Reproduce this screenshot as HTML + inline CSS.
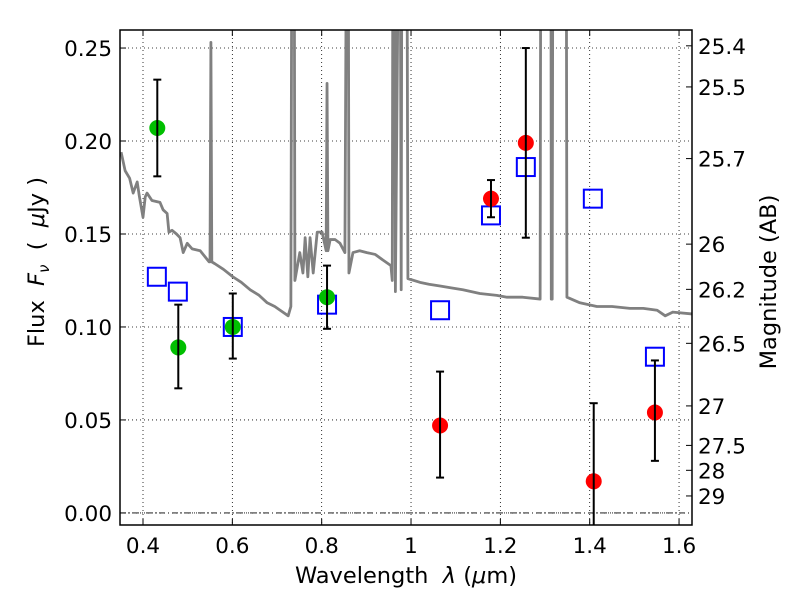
<!DOCTYPE html>
<html><head><meta charset="utf-8"><style>
body{margin:0;background:#fff}
svg text{font-family:"DejaVu Sans","Liberation Sans",sans-serif;fill:#000}
</style></head><body>
<svg id="chart" width="800" height="600" xmlns="http://www.w3.org/2000/svg"></svg>
<script>
const xTicks=[0.4,0.6,0.8,1.0,1.2,1.4,1.6];
const xTickLabels=["0.4","0.6","0.8","1","1.2","1.4","1.6"];
const yTicks=[0,0.05,0.1,0.15,0.2,0.25];
const yTickLabels=["0.00","0.05","0.10","0.15","0.20","0.25"];
const magTicks=[25.4,25.5,25.7,26,26.2,26.5,27,27.5,28,29];
const magLabels=["25.4","25.5","25.7","26","26.2","26.5","27","27.5","28","29"];
const greenX=[0.432,0.479,0.601,0.812];
const greenY=[0.207,0.089,0.100,0.116];
const greenHi=[0.233,0.112,0.118,0.133];
const greenLo=[0.181,0.067,0.083,0.099];
const redX=[1.065,1.179,1.257,1.409,1.546];
const redY=[0.047,0.169,0.199,0.017,0.054];
const redHi=[0.076,0.179,0.250,0.059,0.082];
const redLo=[0.019,0.159,0.148,-0.03,0.028];
const modelX=[0.431,0.478,0.601,0.812,1.065,1.179,1.257,1.407,1.546];
const modelY=[0.127,0.119,0.100,0.112,0.109,0.160,0.186,0.169,0.084];
const specX=[0.351,0.360,0.370,0.378,0.387,0.392,0.400,0.405,0.409,0.420,0.438,0.445,0.454,0.458,0.465,0.475,0.483,0.490,0.499,0.510,0.528,0.548,0.550,0.552,0.554,0.561,0.580,0.601,0.620,0.640,0.660,0.678,0.695,0.707,0.725,0.731,0.734,0.738,0.740,0.751,0.758,0.763,0.769,0.774,0.781,0.790,0.801,0.810,0.812,0.814,0.819,0.830,0.841,0.852,0.857,0.859,0.861,0.870,0.885,0.901,0.920,0.937,0.955,0.958,0.960,0.963,0.965,0.975,0.978,0.980,0.990,0.993,1.020,1.040,1.065,1.090,1.116,1.154,1.192,1.215,1.250,1.289,1.291,1.313,1.314,1.316,1.318,1.347,1.349,1.378,1.416,1.450,1.490,1.520,1.551,1.569,1.586,1.629];
const specY=[0.194,0.184,0.180,0.172,0.178,0.170,0.159,0.170,0.172,0.168,0.167,0.163,0.161,0.151,0.152,0.150,0.148,0.140,0.145,0.142,0.141,0.135,0.135,0.253,0.135,0.134,0.131,0.127,0.124,0.120,0.117,0.113,0.111,0.109,0.106,0.111,0.4,0.4,0.125,0.140,0.129,0.148,0.127,0.148,0.129,0.151,0.151,0.141,0.231,0.141,0.147,0.147,0.145,0.140,0.4,0.4,0.129,0.140,0.141,0.140,0.139,0.136,0.133,0.125,0.4,0.4,0.119,0.4,0.12,0.4,0.4,0.126,0.124,0.123,0.122,0.121,0.120,0.118,0.117,0.116,0.116,0.115,0.4,0.4,0.115,0.115,0.4,0.4,0.116,0.113,0.111,0.111,0.110,0.110,0.109,0.106,0.108,0.107];

const L=120,R=692,T=30,B=525,X0=0.3485,X1=1.629,Y0=-0.0065,Y1=0.2597;
const sx=v=>L+(v-X0)/(X1-X0)*(R-L);
const sy=v=>B-(v-Y0)/(Y1-Y0)*(B-T);
const NS="http://www.w3.org/2000/svg";
const svg=document.getElementById('chart');
function mk(tag,attrs,parent){const e=document.createElementNS(NS,tag);for(const k in attrs)e.setAttribute(k,attrs[k]);(parent||svg).appendChild(e);return e;}
const defs=mk('defs',{});const cp=mk('clipPath',{id:'clip'},defs);mk('rect',{x:L,y:T,width:R-L,height:B-T},cp);

xTicks.forEach((t,i)=>{
  const g=mk('line',{x1:sx(t),x2:sx(t),y1:T,y2:B,stroke:'#000','stroke-width':0.8,'stroke-dasharray':'1,3'});
  
  
  const tk=mk('line',{x1:sx(t),x2:sx(t),y1:B,y2:B-6,stroke:'#000','stroke-width':1});
  
  
  mk('line',{x1:sx(t),x2:sx(t),y1:T,y2:T+6,stroke:'#000','stroke-width':1});
  const lb=mk('text',{x:sx(t),y:B+28,'text-anchor':'middle','font-size':21.5});lb.textContent=xTickLabels[i];
  
  
});
yTicks.forEach((t,i)=>{
  const g=mk('line',{x1:L,x2:R,y1:sy(t),y2:sy(t),stroke:'#000','stroke-width':0.8,'stroke-dasharray':'1,3'});
  
  
  mk('line',{x1:L,x2:L+6,y1:sy(t),y2:sy(t),stroke:'#000','stroke-width':1});
  const lb=mk('text',{x:L-8,y:sy(t)+8,'text-anchor':'end','font-size':21.5});lb.textContent=yTickLabels[i];
  
  
});
magTicks.forEach((m,i)=>{
  const f=Math.pow(10,(23.9-m)/2.5);
  mk('line',{x1:R,x2:R-6,y1:sy(f),y2:sy(f),stroke:'#000','stroke-width':1});
  const lb=mk('text',{x:R+6,y:sy(f)+8,'font-size':21.5});lb.textContent=magLabels[i];
  
  
});
const zl=mk('line',{x1:L,x2:R,y1:sy(0),y2:sy(0),stroke:'#000','stroke-width':0.8,'stroke-dasharray':'6,3,1,3'});



const sp=mk('polyline',{points:specX.map((x,i)=>sx(x)+','+sy(specY[i])).join(' '),fill:'none',stroke:'#808080','stroke-width':2.8,'clip-path':'url(#clip)','stroke-linejoin':'round'});



modelX.forEach((x,i)=>{
  const r=mk('rect',{x:sx(x)-9,y:sy(modelY[i])-9,width:18,height:18,fill:'none',stroke:'#0000ff','stroke-width':2});
  
  
});
function pts(X,Y,col,name){
  X.forEach((x,i)=>{
    const c=mk('circle',{cx:sx(x),cy:sy(Y[i]),r:8,fill:col,'clip-path':'url(#clip)'});
    
    
  });
}
function errs(X,Hi,Lo){
  X.forEach((x,i)=>{
    const g=mk('g',{'clip-path':'url(#clip)'});
    
    
    mk('line',{x1:sx(x),x2:sx(x),y1:sy(Hi[i]),y2:sy(Lo[i]),stroke:'#000','stroke-width':2},g);
    mk('line',{x1:sx(x)-4,x2:sx(x)+4,y1:sy(Hi[i]),y2:sy(Hi[i]),stroke:'#000','stroke-width':2},g);
    mk('line',{x1:sx(x)-4,x2:sx(x)+4,y1:sy(Lo[i]),y2:sy(Lo[i]),stroke:'#000','stroke-width':2},g);
  });
}
pts(greenX,greenY,'#00bf00','green-detection-point');
pts(redX,redY,'#ff0000','red-detection-point');
errs(greenX,greenHi,greenLo);
errs(redX,redHi,redLo);

const fr=mk('rect',{x:L,y:T,width:R-L,height:B-T,fill:'none',stroke:'#000','stroke-width':1.5});



const xl=mk('text',{x:406,y:583,'text-anchor':'middle','font-size':22.5});
xl.innerHTML='Wavelength\u00a0\u00a0<tspan font-style="italic">λ</tspan> (<tspan font-style="italic">μ</tspan>m)';


const yl=mk('text',{x:0,y:0,'text-anchor':'middle','font-size':22.5,transform:'translate(44,262) rotate(-90)'});
yl.innerHTML='Flux\u00a0\u00a0<tspan font-style="italic">F</tspan><tspan font-style="italic" font-size="15" dy="5">ν</tspan><tspan dy="-5">\u00a0\u00a0(\u00a0\u00a0</tspan><tspan font-style="italic">μ</tspan>Jy )';


const rl=mk('text',{x:0,y:0,'text-anchor':'middle','font-size':22.5,transform:'translate(776,282) rotate(-90)'});
rl.textContent='Magnitude (AB)';


</script>
</body></html>
